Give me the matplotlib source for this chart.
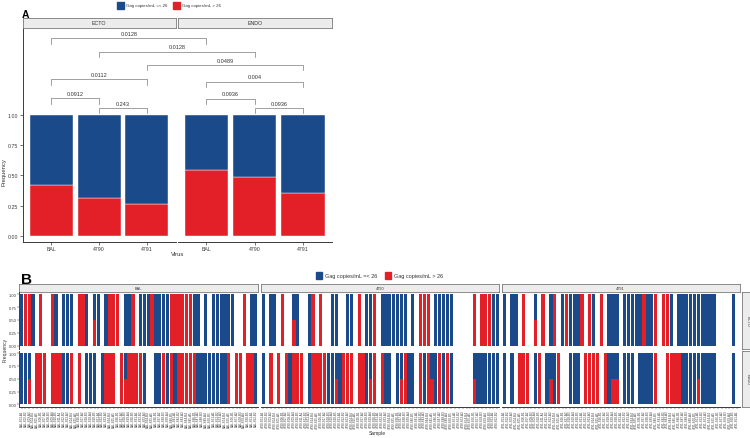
import matplotlib.pyplot as plt
from matplotlib.patches import Rectangle

plt.rcParams["font.family"] = ["Liberation Sans", "DejaVu Sans"]

BLUE = "#1b4a8b"
RED = "#e31f27"
STRIP_FILL = "#ececec"
STRIP_EDGE = "#7a7a7a"
AXIS = "#3a3a3a"

viruses = ["BAL", "4790", "4791"]
tissues = ["ECTO", "ENDO"]
legend_labels = ["Gag copies/mL =< 26", "Gag copies/mL > 26"]
freq_ticks = [0, 0.25, 0.5, 0.75, 1.0]
freq_tick_labels = ["0.00", "0.25", "0.50", "0.75", "1.00"]

# Panel A: share of samples with Gag copies/mL > 26
ecto_high = [0.42, 0.316, 0.264]
endo_high = [0.54, 0.49, 0.354]

# p-value brackets: group 1, group 2, bracket height, label
pvalues = [
    (("ECTO", "BAL"), ("ENDO", "BAL"), 1.63, "0.0128"),
    (("ECTO", "4790"), ("ENDO", "4790"), 1.52, "0.0128"),
    (("ECTO", "4791"), ("ENDO", "4791"), 1.41, "0.0489"),
    (("ECTO", "BAL"), ("ECTO", "4791"), 1.29, "0.0112"),
    (("ENDO", "BAL"), ("ENDO", "4791"), 1.27, "0.004"),
    (("ECTO", "BAL"), ("ECTO", "4790"), 1.135, "0.0912"),
    (("ENDO", "BAL"), ("ENDO", "4790"), 1.13, "0.0936"),
    (("ECTO", "4790"), ("ECTO", "4791"), 1.055, "0.243"),
    (("ENDO", "4790"), ("ENDO", "4791"), 1.055, "0.0936"),
]

# Panel B: one call per sample
# B = all =< 26, R = all > 26, H = half and half, . = no sample in that tissue
bal_ecto = "BRRB.R..RB.BBB.RRB.HB.BRRR.BBR.BBBRBBBBRRRRRRBB.B.BBBBBB..R.BB"
bal_endo = "BBH.RRR.RRRBBR.R.BBB.BRRR.RHRRRRB..BBRBRBRRRRRBBBBBBBBR.RR.RRB"
v4790_ecto = "B.BB.R..HB..BR.R..BB..BB.R.BBR.BBBBBBB.B.RRR.BBBBB.....R.RRRBB"
v4790_endo = "B.R.R.RBRRR.BRRRRBBHBRRR.RRBHR.RBB.BHRBB.RBRHBRBRB.....HBBBBBB"
v4791_ecto = "B.BB.R..H.R.BR.BRBBBR.RB.R.BBB.BBBBBRBBR.RRB.BBBBBBBBBB....B."
v4791_endo = "B.B.RRR.BR.BHBR..BBB.RRRR.RBHH.BBB.BBBBR..RRRRBBBBHBBBB....B."
share_high = {"B": 0.0, "R": 1.0, "H": 0.5}

calls = {
    ("BAL", "ECTO"): bal_ecto, ("BAL", "ENDO"): bal_endo,
    ("4790", "ECTO"): v4790_ecto, ("4790", "ENDO"): v4790_endo,
    ("4791", "ECTO"): v4791_ecto, ("4791", "ENDO"): v4791_endo,
}

# sample names are not legible in the original, so use placeholder ids
sample_names = {v: [f"{v}-S{i + 1:02d}-{'AB'[i % 2]}{i % 5 + 1}" for i in range(len(calls[(v, "ECTO")]))]
                for v in viruses}

W, H = 750, 439
fig = plt.figure(figsize=(W / 100, H / 100), dpi=100)


def box(x0, y0, x1, y1):
    return fig.add_axes([x0 / W, 1 - y1 / H, (x1 - x0) / W, (y1 - y0) / H])


def strip(x0, y0, x1, y1, text, size, rotation=0):
    ax = box(x0, y0, x1, y1)
    ax.set_facecolor(STRIP_FILL)
    ax.set_xticks([])
    ax.set_yticks([])
    for s in ax.spines.values():
        s.set_color(STRIP_EDGE)
        s.set_linewidth(0.6)
    ax.text(0.5, 0.5, text, ha="center", va="center", fontsize=size,
            rotation=rotation, color="#333333", transform=ax.transAxes)
    return ax


def style(ax, left=True, bottom=True):
    ax.set_facecolor("none")
    ax.spines["top"].set_visible(False)
    ax.spines["right"].set_visible(False)
    ax.spines["left"].set_visible(left)
    ax.spines["bottom"].set_visible(bottom)
    for side in ("left", "bottom"):
        ax.spines[side].set_color(AXIS)
        ax.spines[side].set_linewidth(0.7)
    ax.tick_params(colors=AXIS, length=2, width=0.5, pad=1)
    if not left:
        ax.set_yticks([])
    if not bottom:
        ax.set_xticks([])


def ftext(x, y, s, color="#333333", **kw):
    fig.text(x / W, 1 - y / H, s, ha="center", va="center", color=color, **kw)


def legend(xs, y0, side, gap, size):
    for x, col, lab in zip(xs, [BLUE, RED], legend_labels):
        fig.add_artist(Rectangle((x / W, 1 - (y0 + side) / H), side / W, side / H,
                                 transform=fig.transFigure, color=col))
        fig.text((x + side + gap) / W, 1 - (y0 + side / 2) / H, lab, ha="left",
                 va="center", fontsize=size, color="#333333")


# ---------------- Panel A ----------------
legend([116.7, 173.3], 2.7, 6.8, 2.3, 3.2)
ftext(25.5, 15, "A", fontsize=7.5, fontweight="bold", color="black")

xs = [1, 2, 3]
ax_a = {}
for t, (x0, x1), high in zip(tissues, [(22.7, 175.5), (177.5, 332)], [ecto_high, endo_high]):
    ax = box(x0, 29.3, x1, 243.3)
    ax.bar(xs, high, width=0.9, color=RED, edgecolor="white", linewidth=0.3)
    ax.bar(xs, [1 - h for h in high], bottom=high, width=0.9, color=BLUE,
           edgecolor="white", linewidth=0.3)
    ax.set_xlim(0.4, 3.6)
    ax.set_ylim(-0.052, 1.712)
    style(ax, left=(t == "ECTO"))
    ax.set_xticks(xs)
    ax.set_xticklabels(viruses, fontsize=3.8)
    if t == "ECTO":
        ax.set_yticks(freq_ticks)
        ax.set_yticklabels(freq_tick_labels, fontsize=3.8)
    strip(x0, 19, x1, 28.5, t, 3.8)
    ax_a[t] = ax

base = ax_a["ECTO"]


def bar_x(group):
    t, v = group
    disp = ax_a[t].transData.transform((viruses.index(v) + 1, 0))
    return base.transData.inverted().transform(disp)[0]


for g1, g2, y, lab in pvalues:
    xa, xb = bar_x(g1), bar_x(g2)
    base.plot([xa, xa, xb, xb], [y - 0.045, y, y, y - 0.045], color="#7a7a7a",
              lw=0.5, clip_on=False)
    base.text((xa + xb) / 2, y + 0.02, lab, ha="center", va="bottom", fontsize=4,
              color="#333333", clip_on=False)

ftext(4.5, 172, "Frequency", fontsize=4.2, rotation=90)
ftext(178, 255, "Virus", fontsize=4.2)

# ---------------- Panel B ----------------
legend([316, 385], 273.3, 6.3, 2.5, 4)
ftext(26, 280, "B", fontsize=11, fontweight="bold", color="black")

cols = [(19.3, 258), (261, 499.5), (502, 739.5)]
rows = [(292.5, 349.5), (351.5, 408)]
for ci, v in enumerate(viruses):
    x0, x1 = cols[ci]
    strip(x0, 285, x1, 292.5, v, 2.8)
    for ri, t in enumerate(tissues):
        y0, y1 = rows[ri]
        ax = box(x0, y0, x1, y1)
        codes = calls[(v, t)]
        pos = [i + 1 for i, c in enumerate(codes) if c != "."]
        high = [share_high[c] for c in codes if c != "."]
        ax.bar(pos, high, width=0.86, color=RED, linewidth=0)
        ax.bar(pos, [1 - h for h in high], bottom=high, width=0.86, color=BLUE, linewidth=0)
        ax.set_xlim(0.4, len(codes) + 0.6)
        ax.set_ylim(-0.05, 1.05)
        style(ax, left=(ci == 0), bottom=(ri == 1))
        ax.tick_params(length=1.2, width=0.35, pad=0.8)
        if ci == 0:
            ax.set_yticks(freq_ticks)
            ax.set_yticklabels(freq_tick_labels, fontsize=3)
        if ri == 1:
            ax.set_xticks(range(1, len(codes) + 1))
            ax.set_xticklabels(sample_names[v], fontsize=2.2, rotation=90)
        if ci == 2:
            strip(741.5, y0, 753, y1, t, 2.8, rotation=-90)

ftext(5, 350, "Frequency", fontsize=3.6, rotation=90)
ftext(377, 434, "Sample", fontsize=3.6)

fig.savefig("out.png", dpi=100)
